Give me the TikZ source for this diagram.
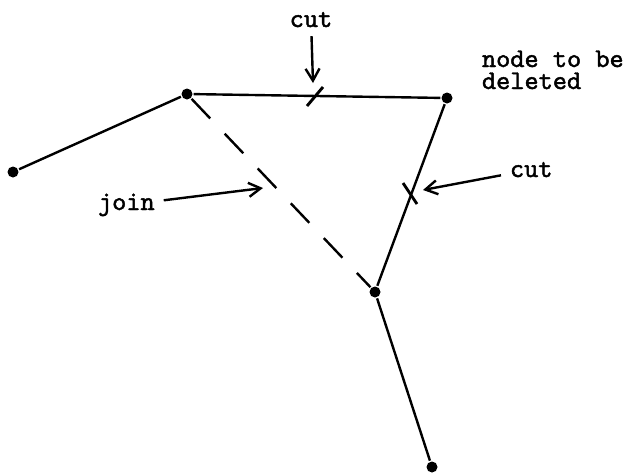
\documentclass[tikz,border=0pt]{standalone}
\usepackage{fontspec}
\setmonofont{lmmono10-regular.otf}[FakeBold=1.6]
\usetikzlibrary{arrows.meta}
\newcommand\lblfont{\ttfamily\fontsize{27}{22}\selectfont}
\begin{document}
\begin{tikzpicture}[x=1pt,y=-1pt,line width=2.4pt,
  vertex/.style={circle,fill,draw=none,inner sep=0pt,minimum size=11pt},
  lbl/.style={font=\lblfont,inner sep=0pt,outer sep=9pt},
  pointer/.style={-{Straight Barb[length=12pt,width=14pt,line width=2.4pt]}},
  tickmark/.style={line width=2.9pt},
  joinline/.style={dash pattern=on 27pt off 21pt}]
\useasboundingbox (0,0) rectangle (630,472);
% vertices
\node[vertex] (L) at (13,172) {};
\node[vertex] (A) at (187,94) {};
\node[vertex] (B) at (447,98) {};
\node[vertex] (C) at (375,292) {};
\node[vertex] (D) at (432,467) {};
% edges
\draw (L) -- (A) -- (B) -- (C) -- (D);
\draw[joinline] (A) -- (C);
% cut marks
\coordinate (t1) at (315,97);
\coordinate (t2) at (410,193);
\draw[tickmark] ([shift={(-8,9)}]t1) -- ([shift={(8,-10)}]t1);
\draw[tickmark] ([shift={(-7,-10)}]t2) -- ([shift={(7,11)}]t2);
% labels
\node[lbl,anchor=base] (cut1) at (311,27) {cut};
\node[lbl,anchor=base west] (cut2) at (501,177) {cut};
\node[lbl,anchor=base west] (join) at (89,210) {join};
\node[lbl,anchor=base west,outer sep=0pt] (del) at (482,67) {node to be};
\node[lbl,anchor=base west,outer sep=0pt] (del2) at (482,89) {deleted};
% pointers
\coordinate (p1) at (313,83);
\coordinate (p2) at (423,190);
\coordinate (p3) at (263,188);
\draw[pointer] (cut1) -- (p1);
\draw[pointer] (cut2) -- (p2);
\draw[pointer] (join) -- (p3);
\end{tikzpicture}
\end{document}
